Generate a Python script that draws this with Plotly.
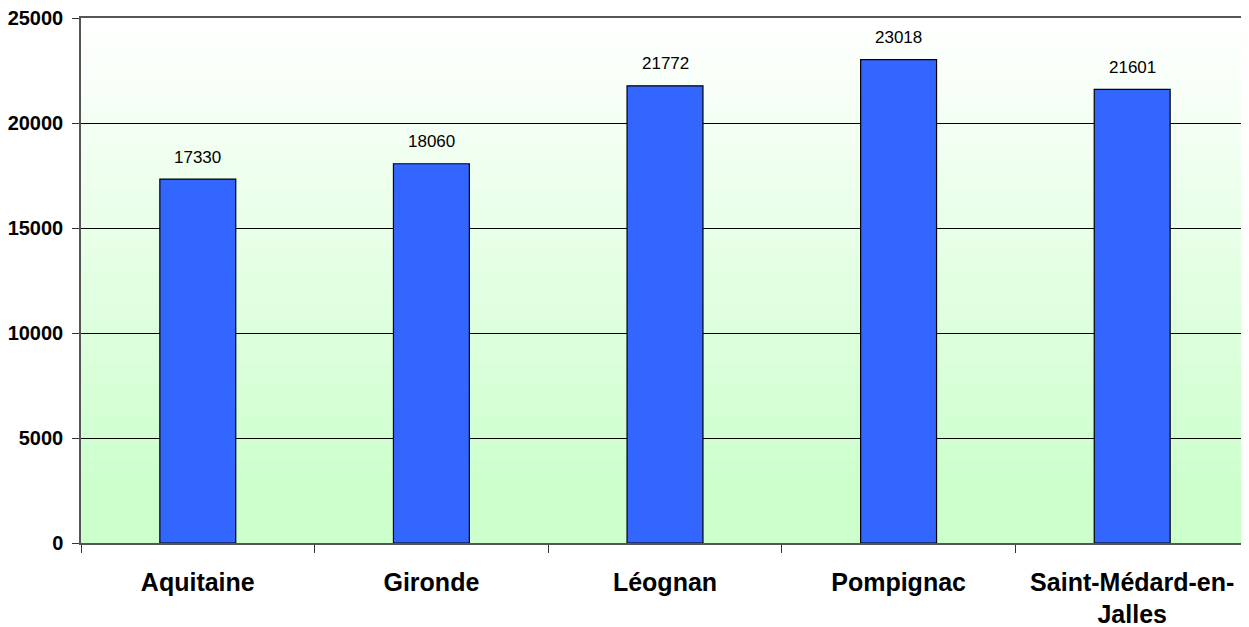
import plotly.graph_objects as go

categories = ["Aquitaine", "Gironde", "Léognan", "Pompignac", "Saint-Médard-en-<br>Jalles"]
values = [17330, 18060, 21772, 23018, 21601]
y_ticks = [0, 5000, 10000, 15000, 20000, 25000]

fig = go.Figure()
fig.add_trace(go.Bar(
    x=categories, y=values,
    marker=dict(color="#3366FF", line=dict(color="#000000", width=1.2)),
    width=0.325,
    hoverinfo="skip",
))

# value labels
for c, v in zip(categories, values):
    fig.add_annotation(x=c, y=v, text=str(v), showarrow=False, yanchor="middle",
                       yshift=22, font=dict(family="Liberation Sans, Arial", size=17, color="#000000"))

# vertical gradient background (white -> light green)
n = 120
shapes = []
for i in range(n):
    t0 = i / n
    t1 = (i + 1) / n
    f = 1 - (t0 + t1) / 2  # 0 at top, 1 at bottom
    f = min(1.0, f / 0.9)
    r = round(255 - (255 - 204) * f)
    b = round(255 - (255 - 204) * f)
    shapes.append(dict(type="rect", xref="x domain", yref="y domain",
                       x0=0, x1=1, y0=t0, y1=t1 + 0.002,
                       fillcolor=f"rgb({r},255,{b})", line=dict(width=0), layer="below"))
fig.update_layout(shapes=shapes)

# page body has an 8px default margin, so the figure is sized/offset to compensate
fig.update_layout(
    width=1241, height=619,
    margin=dict(l=73, r=0, t=10, b=84),
    paper_bgcolor="white", plot_bgcolor="white",
    showlegend=False,
    font=dict(family="Liberation Sans, Arial", color="#000000"),
)
fig.update_xaxes(
    automargin=False,
    tickson="boundaries", ticks="outside", ticklen=8, tickcolor="#333333",
    showgrid=False, showline=True, linecolor="#555555", linewidth=1.5,
    mirror=True,
    tickfont=dict(size=25, family="Liberation Sans, Arial", weight="bold"),
    ticklabelstandoff=16,
    range=[-0.5, 4.5],
)
fig.update_yaxes(
    automargin=False,
    range=[0, 25000], tickvals=y_ticks, ticktext=[str(v) for v in y_ticks],
    ticks="outside", ticklen=7, tickcolor="#333333",
    showgrid=True, gridcolor="#000000", gridwidth=1,
    showline=True, linecolor="#555555", linewidth=1.5,
    zeroline=False,
    tickfont=dict(size=20, family="Liberation Sans, Arial", weight="bold"),
    ticklabelstandoff=5,
    ticklabeloverflow="allow",
)

fig.write_html("out.html")
